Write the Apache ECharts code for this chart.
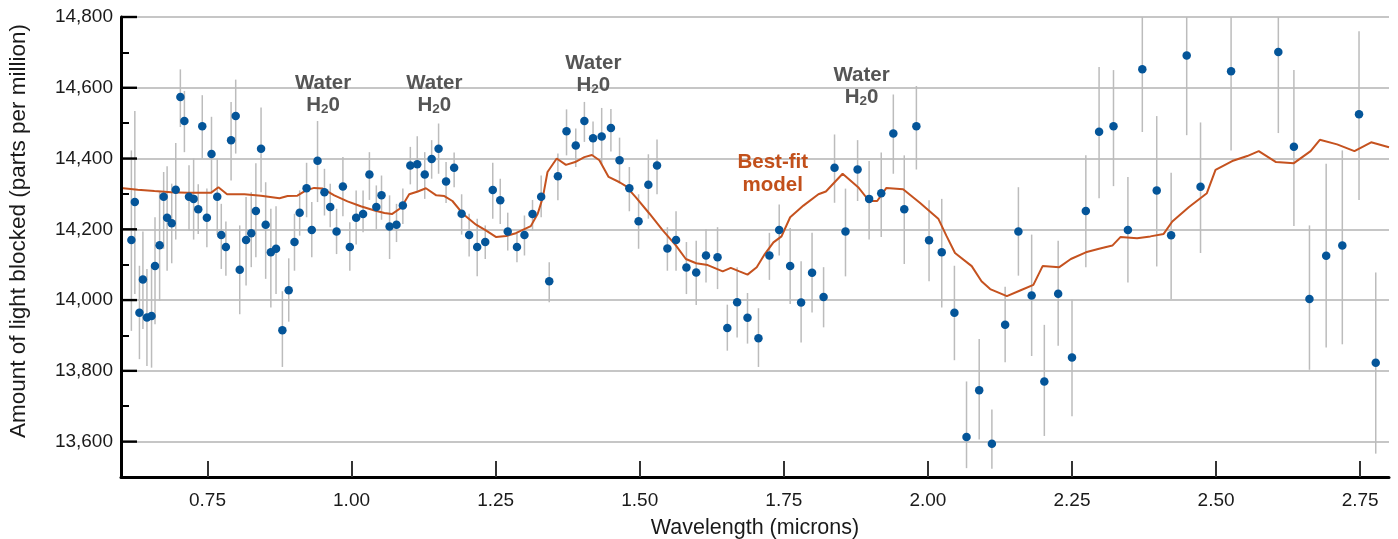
<!DOCTYPE html>
<html><head><meta charset="utf-8">
<script src="https://cdn.jsdelivr.net/npm/echarts@6/dist/echarts.min.js"></script>
<style>html,body{margin:0;padding:0;background:#fff}#c{width:1398px;height:539px}</style>
</head><body><div id="c"></div>
<script>
// ---- Observed transit depths (wavelength in microns, depth in ppm) ----
const obsWavelength = [
0.618,0.624,0.632,0.638,0.645,0.653,0.659,0.667,0.674,0.680,0.688,0.695,0.703,0.710,0.718,0.726,0.734,0.741,0.749,0.757,
0.767,0.774,0.782,0.791,0.799,0.806,0.817,0.826,0.834,0.843,0.851,0.860,0.869,0.880,0.891,0.901,0.910,0.922,0.931,0.941,
0.953,0.963,0.974,0.985,0.997,1.008,1.020,1.031,1.043,1.052,1.066,1.078,1.089,1.102,1.114,1.127,1.139,1.151,
1.164,1.178,1.191,1.204,1.218,1.232,1.245,1.258,1.271,1.287,1.300,1.314,1.329,1.343,1.358,1.373,1.389,1.404,1.419,1.434,
1.450,1.465,1.482,1.498,1.515,1.530,1.548,1.563,1.581,1.598,1.615,1.635,1.652,1.669,1.687,
1.706,1.725,1.742,1.761,1.780,1.799,1.819,1.838,1.857,1.878,1.898,1.919,1.940,1.959,1.980,2.002,2.024,2.046,2.067,2.089,
2.111,2.134,2.157,2.180,2.202,2.226,
2.250,2.274,2.297,2.322,2.347,2.372,2.397,2.422,2.449,2.473,2.526,2.608,2.635,2.662,2.691,2.719,2.748,2.777];
const obsDepth = [
14170,14277,13964,14058,13951,13955,14096,14155,14292,14233,14217,14312,14574,14506,14292,14286,14257,14491,14233,14413,
14292,14184,14150,14452,14520,14086,14170,14189,14252,14428,14213,14135,14145,13915,14028,14164,14247,14316,14198,14394,
14305,14263,14194,14321,14150,14233,14243,14355,14263,14296,14208,14213,14267,14380,14384,14355,14399,14428,
14335,14374,14244,14184,14150,14164,14311,14282,14194,14150,14184,14243,14292,14053,14350,14477,14437,14506,14457,14462,
14486,14395,14316,14223,14326,14380,14146,14170,14092,14078,14126,14121,13921,13994,13950,
13892,14126,14198,14096,13993,14077,14009,14374,14194,14369,14286,14302,14471,14257,14491,14169,14135,13964,13613,13745,
13594,13930,14194,14013,13770,14018,
13838,14252,14476,14491,14198,14652,14310,14183,14691,14320,14647,14701,14433,14003,14125,14154,14525,13823];
const obsUpper = [
14423,14534,14097,14194,14088,14097,14234,14305,14362,14378,14329,14444,14652,14591,14381,14400,14327,14579,14315,14518,
14400,14272,14222,14560,14623,14211,14291,14305,14387,14544,14333,14258,14265,14025,14118,14244,14310,14388,14277,14506,
14371,14329,14258,14404,14220,14310,14310,14418,14324,14352,14296,14272,14315,14433,14463,14418,14452,14499,
14390,14417,14299,14244,14230,14211,14388,14343,14247,14192,14239,14283,14352,14107,14414,14539,14485,14560,14505,14543,
14540,14459,14376,14299,14412,14454,14206,14251,14164,14168,14201,14206,13987,14093,14020,
13977,14190,14270,14204,14110,14190,14093,14468,14315,14452,14393,14417,14581,14409,14605,14282,14286,14097,13770,13890,
13691,14038,14319,14185,13930,14168,
14001,14409,14659,14650,14348,14800,14520,14360,14800,14502,14800,14800,14650,14211,14385,14423,14760,14078];
const obsLower = [
13913,14017,13833,13918,13814,13809,13932,13998,14145,14083,14104,14171,14489,14418,14197,14171,14187,14400,14149,14305,
14184,14088,14069,14338,14414,13960,14041,14093,14121,14305,14060,13979,14017,13811,13939,14083,14182,14234,14121,14277,
14239,14206,14130,14237,14083,14157,14192,14283,14201,14227,14116,14164,14215,14327,14305,14286,14343,14357,
14274,14319,14185,14123,14067,14116,14230,14215,14140,14107,14126,14197,14234,13994,14282,14409,14376,14447,14409,14381,
14420,14329,14251,14145,14230,14299,14083,14083,14017,13986,14050,14031,13857,13894,13877,
13811,14057,14126,13989,13880,13965,13923,14275,14067,14280,14171,14178,14357,14102,14369,14053,13979,13830,13525,13606,
13523,13824,14069,13842,13616,13871,
13672,14093,14288,14322,14050,14475,14095,14003,14466,14133,14423,14472,14209,13803,13866,13875,14283,13566];

// ---- Best-fit model ----
const modelWavelength = [
0.600,0.629,0.658,0.687,0.716,0.756,0.769,0.784,0.814,0.843,0.875,0.889,0.906,0.921,0.935,0.950,0.970,0.993,1.016,1.040,
1.057,1.070,1.086,1.100,1.115,1.129,1.147,1.161,1.175,1.193,1.216,1.233,1.251,1.268,1.285,1.311,1.323,1.332,1.340,1.356,
1.372,1.388,1.404,1.417,1.430,1.446,1.465,1.476,1.493,1.517,1.540,1.563,1.580,1.598,1.618,1.644,1.658,1.673,1.687,1.703,
1.717,1.732,1.746,1.761,1.784,1.810,1.823,1.852,1.879,1.898,1.912,1.928,1.957,1.986,2.018,2.032,2.047,2.076,2.093,2.108,
2.137,2.160,2.183,2.199,2.228,2.248,2.274,2.297,2.320,2.334,2.363,2.386,2.409,2.424,2.453,2.484,2.499,2.528,2.554,2.574,
2.604,2.635,2.664,2.680,2.710,2.740,2.769,2.800];
const modelDepth = [
14317,14312,14308,14305,14303,14303,14319,14299,14299,14295,14288,14294,14295,14310,14317,14315,14296,14279,14265,14253,
14246,14243,14261,14299,14307,14316,14296,14294,14280,14244,14213,14197,14178,14181,14189,14209,14244,14291,14362,14400,
14382,14390,14404,14410,14395,14348,14333,14322,14291,14244,14197,14154,14116,14104,14099,14081,14091,14081,14072,14093,
14130,14163,14180,14234,14267,14299,14307,14357,14319,14280,14280,14317,14313,14275,14230,14182,14133,14096,14053,14031,
14011,14027,14043,14096,14093,14116,14135,14145,14154,14178,14175,14180,14187,14222,14263,14302,14368,14393,14407,14421,
14390,14387,14421,14453,14440,14421,14446,14432];

// ---- Axis ticks ----
const xTickValues = [0.75,1.00,1.25,1.50,1.75,2.00,2.25,2.50,2.75];
const yTickValues = [13600,13800,14000,14200,14400,14600,14800];
const yMinorTickValues = [13500,13700,13900,14100,14300,14500,14700];

// ---- Annotations ----
const waterLabelX = [0.9505,1.1436,1.4194,1.885];
const waterLabelY = [14581,14581,14639,14604];
const modelLabelX = [1.7308];
const modelLabelY = [14357];

const FONT = '"Liberation Sans", Arial, Helvetica, sans-serif';
const X_MIN = 0.6, X_MAX = 2.8, Y_MIN = 13500, Y_MAX = 14800;
const chart = echarts.init(document.getElementById('c'), null, {renderer:'canvas'});

const obs = obsWavelength.map((x,i)=>[x, obsDepth[i], obsLower[i], obsUpper[i]]);
const model = modelWavelength.map((x,i)=>[x, modelDepth[i]]);

const GRAY = '#555555';
const waterRich = {
  w:{fontSize:20.5, fontWeight:'bold', color:GRAY, fontFamily:FONT, lineHeight:22},
  h:{fontSize:20.5, fontWeight:'bold', color:GRAY, fontFamily:FONT, lineHeight:22},
  s:{fontSize:13.5, fontWeight:'bold', color:GRAY, fontFamily:FONT, lineHeight:10, verticalAlign:'bottom'}
};

chart.setOption({
  animation:false,
  backgroundColor:'#ffffff',
  grid:{left:121, right:9, top:17, bottom:62, containLabel:false, outerBoundsMode:'none'},
  xAxis:[{
    type:'value', min:X_MIN, max:X_MAX, z:10,
    axisLine:{show:true, onZero:false, lineStyle:{color:'#000', width:3}},
    axisTick:{show:true, inside:true, length:16, customValues:xTickValues, lineStyle:{color:'#333', width:2}},
    axisLabel:{show:true, customValues:xTickValues, formatter:v=>Number(v).toFixed(2), color:'#1a1a1a', fontSize:19, fontFamily:FONT, margin:14},
    splitLine:{show:false},
    name:'Wavelength (microns)', nameLocation:'middle', nameGap:40,
    nameTextStyle:{fontSize:21.5, color:'#1a1a1a', fontFamily:FONT}
  }],
  yAxis:[{
    type:'value', min:Y_MIN, max:Y_MAX, position:'left', z:10,
    axisLine:{show:true, onZero:false, lineStyle:{color:'#000', width:3}},
    axisTick:{show:false},
    axisLabel:{show:true, customValues:yTickValues, formatter:v=>Number(v).toLocaleString('en-US'), color:'#1a1a1a', fontSize:19, fontFamily:FONT, margin:8, padding:[4,0,0,0]},
    splitLine:{show:false},
    name:'Amount of light blocked (parts per million)', nameLocation:'middle', nameGap:91,
    nameTextStyle:{fontSize:22.5, color:'#1a1a1a', fontFamily:FONT, padding:[0,0,0,32]}
  },{
    type:'value', min:Y_MIN, max:Y_MAX, position:'left', zlevel:1, z:12,
    axisLine:{show:false},
    axisTick:{show:true, inside:true, length:8, customValues:yMinorTickValues, lineStyle:{color:'#000', width:2}},
    axisLabel:{show:false},
    splitLine:{show:false}
  }],
  series:[
    {
      type:'line', data:[], silent:true, z:0,
      markLine:{
        silent:true, symbol:['none','none'], animation:false, z:0,
        label:{show:false},
        lineStyle:{color:'#b3b3b3', width:1.6, type:'solid'},
        data:yTickValues.map(v=>({yAxis:v}))
      }
    },
    {
      // major y ticks (drawn on top of the grid lines)
      type:'custom', z:20, zlevel:1, clip:false, silent:true,
      data:yTickValues.map(v=>[X_MIN, v]),
      encode:{x:0, y:1},
      renderItem:function(params, api){
        const p = api.coord([api.value(0), api.value(1)]);
        return {type:'line', shape:{x1:p[0], y1:p[1], x2:p[0]+16, y2:p[1]},
                style:{stroke:'#000', lineWidth:2.4}};
      }
    },
    {
      type:'custom', z:1, clip:true,
      data:obs,
      encode:{x:0, y:[1,2,3]},
      renderItem:function(params, api){
        const x = api.value(0);
        const p1 = api.coord([x, api.value(2)]);
        const p2 = api.coord([x, api.value(3)]);
        return {type:'line', shape:{x1:p1[0], y1:p1[1], x2:p2[0], y2:p2[1]},
                style:{stroke:'#bcbcbc', lineWidth:1.5}};
      }
    },
    {
      type:'line', z:2, data:model, symbol:'none', smooth:false,
      lineStyle:{color:'#c5521f', width:2}
    },
    {
      type:'scatter', z:3, data:obs.map(d=>[d[0], d[1]]),
      symbol:'circle', symbolSize:8.5,
      itemStyle:{color:'#045599', opacity:1}
    },
    {
      type:'scatter', z:4, symbolSize:0, silent:true,
      itemStyle:{opacity:1},
      data:waterLabelX.map((x,i)=>[x, waterLabelY[i]]),
      label:{show:true, position:'inside', align:'center', verticalAlign:'middle', opacity:1,
        formatter:'{w|Water}\n{h|H}{s|2}{h|0}', rich:waterRich}
    },
    {
      type:'scatter', z:4, symbolSize:0, silent:true,
      itemStyle:{opacity:1},
      data:modelLabelX.map((x,i)=>[x, modelLabelY[i]]),
      label:{show:true, position:'inside', align:'center', verticalAlign:'middle', opacity:1,
        formatter:'Best-fit\nmodel', fontSize:20.5, fontWeight:'bold', color:'#c2501b', fontFamily:FONT, lineHeight:23}
    }
  ]
});
</script>
</body></html>
